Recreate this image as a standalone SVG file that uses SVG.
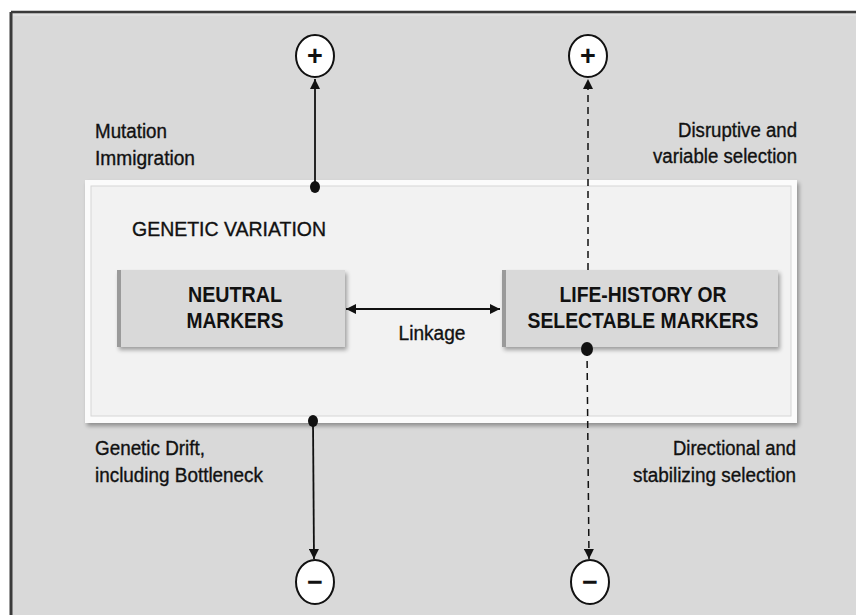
<svg xmlns="http://www.w3.org/2000/svg" width="856" height="615" viewBox="0 0 856 615">
  <defs>
    <style>
      .lbl { font-family: "Liberation Sans", Arial, sans-serif; font-size: 20px; fill: #111; stroke: #111; stroke-width: 0.35; }
      .box { font-family: "Liberation Sans", Arial, sans-serif; font-size: 22px; font-weight: bold; fill: #111; }
      .sign { fill: #fff; stroke: #111; stroke-width: 2; }
      .signtxt { font-family: "Liberation Sans", Arial, sans-serif; font-size: 27px; font-weight: bold; fill: #111; }
      .solid { stroke: #111; stroke-width: 1.8; fill: none; }
      .dash { stroke: #111; stroke-width: 1.5; fill: none; stroke-dasharray: 7 5; }
      .dot { fill: #111; }
    </style>
    <marker id="ah" viewBox="0 0 10 10" refX="10" refY="5" markerWidth="10" markerHeight="10" markerUnits="userSpaceOnUse" orient="auto-start-reverse">
      <path d="M0,0 L10,5 L0,10 Z" fill="#111"/>
    </marker>
    <filter id="sh" x="-5%" y="-5%" width="110%" height="120%">
      <feGaussianBlur in="SourceAlpha" stdDeviation="2"/>
      <feOffset dx="2" dy="3"/>
      <feComponentTransfer><feFuncA type="linear" slope="0.35"/></feComponentTransfer>
      <feMerge><feMergeNode/><feMergeNode in="SourceGraphic"/></feMerge>
    </filter>
  </defs>

  <!-- page -->
  <rect x="0" y="0" width="856" height="615" fill="#ffffff"/>
  <g id="frame">
    <rect x="11" y="12" width="850" height="610" fill="#d9d9d9"/>
    <line x1="11" y1="12" x2="856" y2="12" stroke="#3a3a3a" stroke-width="2.5"/>
    <line x1="11" y1="12" x2="11" y2="615" stroke="#3a3a3a" stroke-width="3"/>
    <line x1="13" y1="15" x2="856" y2="15" stroke="#e8e8e8" stroke-width="1"/>
  </g>

  <!-- genetic variation container -->
  <g id="genetic-variation">
    <rect x="85" y="180" width="712" height="243" fill="#fbfbfb" filter="url(#sh)"/>
    <rect x="91" y="186" width="700" height="230" fill="#f2f2f2" stroke="#d6d6d6" stroke-width="1"/>
    <text class="lbl" x="132" y="236" textLength="194" lengthAdjust="spacingAndGlyphs">GENETIC VARIATION</text>
  </g>

  <g id="neutral-markers">
    <rect x="117" y="270" width="228" height="77" fill="#d9d9d9" filter="url(#sh)"/>
    <rect x="117" y="270" width="4" height="77" fill="#9a9a9a"/>
    <text class="box" x="235" y="302" text-anchor="middle" textLength="94" lengthAdjust="spacingAndGlyphs">NEUTRAL</text>
    <text class="box" x="235" y="328" text-anchor="middle" textLength="97" lengthAdjust="spacingAndGlyphs">MARKERS</text>
  </g>

  <g id="selectable-markers">
    <rect x="502" y="270" width="276" height="77" fill="#d9d9d9" filter="url(#sh)"/>
    <rect x="502" y="270" width="4" height="77" fill="#9a9a9a"/>
    <text class="box" x="643" y="302" text-anchor="middle" textLength="167" lengthAdjust="spacingAndGlyphs">LIFE-HISTORY OR</text>
    <text class="box" x="643" y="328" text-anchor="middle" textLength="231" lengthAdjust="spacingAndGlyphs">SELECTABLE MARKERS</text>
  </g>

  <!-- sign nodes -->
  <g id="plus-left">
    <ellipse class="sign" cx="315" cy="56" rx="19" ry="21"/>
    <text class="signtxt" x="315" y="65" text-anchor="middle">+</text>
  </g>
  <g id="plus-right">
    <ellipse class="sign" cx="588" cy="56" rx="19" ry="21"/>
    <text class="signtxt" x="588" y="65" text-anchor="middle">+</text>
  </g>
  <g id="minus-left">
    <ellipse class="sign" cx="315" cy="582" rx="19" ry="22"/>
    <text class="signtxt" x="315" y="591" text-anchor="middle">−</text>
  </g>
  <g id="minus-right">
    <ellipse class="sign" cx="590" cy="582" rx="19" ry="22"/>
    <text class="signtxt" x="590" y="591" text-anchor="middle">−</text>
  </g>

  <!-- labels -->
  <g id="labels">
    <text class="lbl" x="95" y="138" textLength="72" lengthAdjust="spacingAndGlyphs">Mutation</text>
    <text class="lbl" x="95" y="165" textLength="100" lengthAdjust="spacingAndGlyphs">Immigration</text>
    <text class="lbl" x="797" y="137" text-anchor="end" textLength="119" lengthAdjust="spacingAndGlyphs">Disruptive and</text>
    <text class="lbl" x="797" y="163" text-anchor="end" textLength="144" lengthAdjust="spacingAndGlyphs">variable selection</text>
    <text class="lbl" x="95" y="455" textLength="110" lengthAdjust="spacingAndGlyphs">Genetic Drift,</text>
    <text class="lbl" x="95" y="482" textLength="168" lengthAdjust="spacingAndGlyphs">including Bottleneck</text>
    <text class="lbl" x="796" y="455" text-anchor="end" textLength="123" lengthAdjust="spacingAndGlyphs">Directional and</text>
    <text class="lbl" x="796" y="482" text-anchor="end" textLength="163" lengthAdjust="spacingAndGlyphs">stabilizing selection</text>
    <text class="lbl" x="432" y="340" text-anchor="middle" textLength="67" lengthAdjust="spacingAndGlyphs">Linkage</text>
  </g>

  <!-- connectors -->
  <g id="connectors">
    <line class="solid" x1="315" y1="187" x2="315" y2="79" marker-end="url(#ah)"/>
    <ellipse class="dot" cx="315" cy="187" rx="5" ry="6"/>
    <line class="solid" x1="313" y1="421" x2="314" y2="559" marker-end="url(#ah)"/>
    <ellipse class="dot" cx="313" cy="421" rx="5" ry="6"/>
    <line class="dash" x1="588" y1="270" x2="588" y2="79" marker-end="url(#ah)"/>
    <line class="dash" x1="587" y1="349" x2="589" y2="559" marker-end="url(#ah)"/>
    <ellipse class="dot" cx="587" cy="349" rx="6" ry="7"/>
    <line class="solid" x1="346" y1="309" x2="500" y2="309" marker-start="url(#ah)" marker-end="url(#ah)"/>
  </g>
</svg>
